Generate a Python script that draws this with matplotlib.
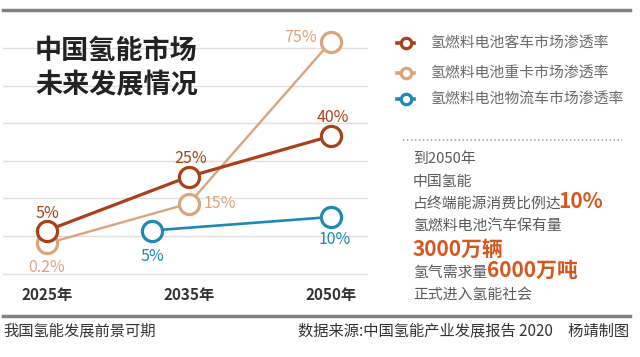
import numpy as np
import matplotlib
matplotlib.use("Agg")
import matplotlib.pyplot as plt
from matplotlib.lines import Line2D
from matplotlib.transforms import blended_transform_factory

plt.rcParams['font.family'] = ['Noto Sans CJK SC', 'DejaVu Sans']

# ---------------- data ----------------
years = ["2025年", "2035年", "2050年"]
bus_values = [5, 25, 40]            # 氢燃料电池客车市场渗透率 (%)
bus_labels = ["5%", "25%", "40%"]
truck_values = [0.2, 15, 75]        # 氢燃料电池重卡市场渗透率 (%)
truck_labels = ["0.2%", "15%", "75%"]
logistics_values = [5, 10]          # 氢燃料电池物流车市场渗透率 (%)
logistics_labels = ["5%", "10%"]
series_names = ["氢燃料电池客车市场渗透率", "氢燃料电池重卡市场渗透率", "氢燃料电池物流车市场渗透率"]
title_lines = ["中国氢能市场", "未来发展情况"]
footer_left = "我国氢能发展前景可期"
footer_right = "数据来源:中国氢能产业发展报告 2020　杨靖制图"

# ---------------- style ----------------
C_BUS = "#a8401a"
C_TRUCK = "#dca47c"
C_LOG = "#1f88b4"
C_HI = "#d6561c"
C_TXT = "#5a5a5a"

W, H = 640, 357
fig = plt.figure(figsize=(W / 100, H / 100), dpi=100)
fig.patch.set_facecolor("white")

def fx(x):
    return x / W

def fy(y):
    return 1 - y / H

# axes region in pixels
ax = fig.add_axes([fx(3), fy(300), (368 - 3) / W, (300 - 20) / H])
ax.set_xlim((3 - 47) / 142, (368 - 47) / 142)
ax.set_ylim((244 - 300) / 2.7, (244 - 20) / 2.7)
ax.set_yticks(np.linspace(-11, 72.6, 7))
ax.set_xticks([])
ax.tick_params(left=False, labelleft=False)
ax.grid(axis="y", color="#dedede", lw=1)
for s in ax.spines.values():
    s.set_visible(False)
ax.set_facecolor("none")

x_all = np.arange(len(years))
x_log = np.array([1 - 0.26, 2])

mk = dict(marker="o", ms=14.5, mfc="white", mew=2.3)
ax.plot(x_log, logistics_values, color=C_LOG, lw=1.9, mec=C_LOG, zorder=3, **mk)
ax.plot(x_all, truck_values, color=C_TRUCK, lw=1.7, mec=C_TRUCK, zorder=4, **mk)
ax.plot(x_all, bus_values, color=C_BUS, lw=2.3, mec=C_BUS, zorder=5, **mk)

lab = dict(textcoords="offset points", ha="center", va="center", fontsize=11.5)
bus_off = [(0, 12.5), (1.5, 13), (1.5, 13)]
for xi, v, t, o in zip(x_all, bus_values, bus_labels, bus_off):
    ax.annotate(t, (xi, v), xytext=o, color=C_BUS, **lab)
truck_off = [(0, -17), (22, 0), (-22, 3)]
for xi, v, t, o in zip(x_all, truck_values, truck_labels, truck_off):
    ax.annotate(t, (xi, v), xytext=o, color=C_TRUCK, **lab)
log_off = [(0, -19), (3, -16.5)]
for xi, v, t, o in zip(x_log, logistics_values, logistics_labels, log_off):
    ax.annotate(t, (xi, v), xytext=o, color=C_LOG, **lab)

# year labels
tr = blended_transform_factory(ax.transData, fig.transFigure)
for xi, y in zip(x_all, years):
    ax.text(xi, fy(295), y, transform=tr, ha="center", va="center",
            fontsize=11, fontweight="bold", color="#333333")

# title
fig.text(fx(35), fy(51), title_lines[0], fontsize=19.5, fontweight="bold",
         color="#222222", va="center", ha="left")
fig.text(fx(35), fy(85), title_lines[1], fontsize=19.5, fontweight="bold",
         color="#222222", va="center", ha="left")

# rules
fig.add_artist(Line2D([fx(3), fx(630)], [fy(10)] * 2, color="#808080", lw=2.5))
fig.add_artist(Line2D([fx(3), fx(630)], [fy(316)] * 2, color="#808080", lw=2.5))
fig.add_artist(Line2D([fx(403), fx(622)], [fy(140)] * 2, color="#9a9a9a", lw=1.1,
                      linestyle=(0, (1, 1.6))))

# legend
for name, col, y in zip(series_names, [C_BUS, C_TRUCK, C_LOG], [43, 73, 99]):
    fig.add_artist(Line2D([fx(397), fx(414)], [fy(y)] * 2, color=col, lw=2.6))
    fig.add_artist(Line2D([fx(405.5)], [fy(y)], color=col, marker="o", ms=7.5,
                          mfc="white", mec=col, mew=2.3))
    fig.text(fx(430), fy(y), name, fontsize=10.7, color="#6a6a6a", va="center", ha="left")

# right-hand text block
renderer = fig.canvas.get_renderer()

def runs(parts, y_center):
    x = 413
    base = fy(y_center + 5.5)
    for txt, big, shift in parts:
        if big:
            t = fig.text(fx(x + shift), base, txt, fontsize=15, fontweight="bold",
                         color=C_HI, va="baseline", ha="left")
        else:
            t = fig.text(fx(x), base, txt, fontsize=10.7, color=C_TXT,
                         va="baseline", ha="left")
        bb = t.get_window_extent(renderer)
        x = bb.x1

runs([("到2050年", False, 0)], 157)
runs([("中国氢能", False, 0)], 180)
runs([("占终端能源消费比例达", False, 0), ("10%", True, -3)], 202)
runs([("氢燃料电池汽车保有量", False, 0)], 225)
fig.text(fx(413), fy(256), "3000万辆", fontsize=15, fontweight="bold",
         color=C_HI, va="baseline", ha="left")
runs([("氢气需求量", False, 0), ("6000万吨", True, 0)], 271)
runs([("正式进入氢能社会", False, 0)], 293)

# footer
fig.text(fx(3), fy(331), footer_left, fontsize=11, color="#333333", va="center", ha="left")
fig.text(fx(629), fy(331), footer_right, fontsize=11, color="#333333", va="center", ha="right")

fig.savefig("out.png", dpi=100, facecolor="white")
